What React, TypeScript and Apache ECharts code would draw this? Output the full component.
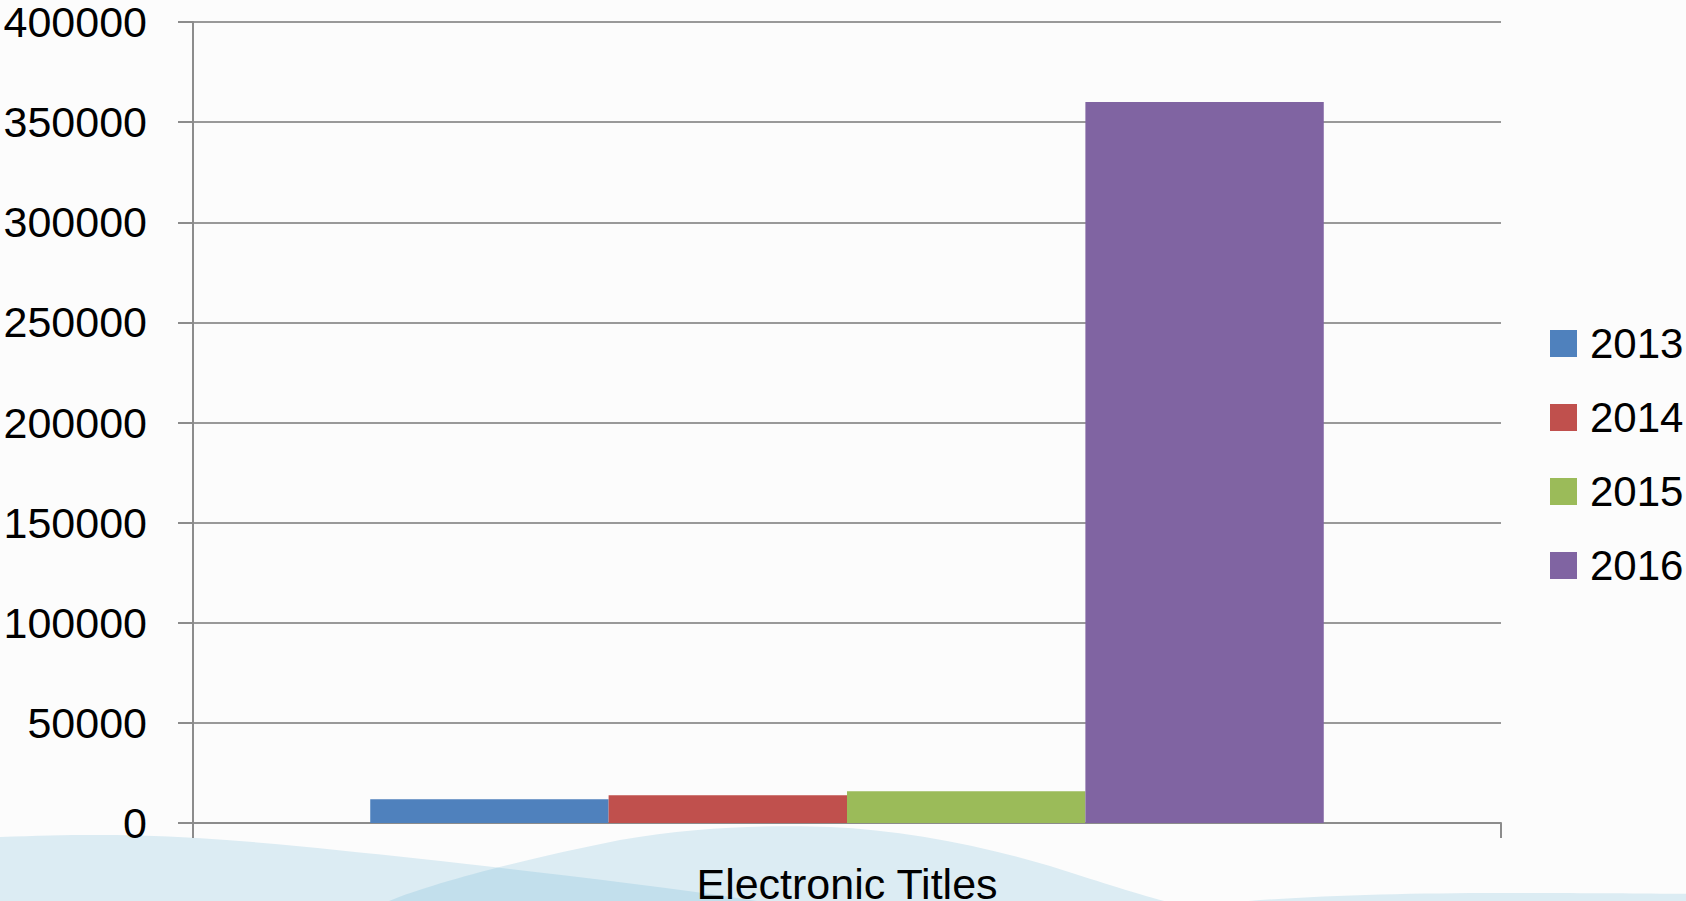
import React, { useEffect, useRef } from "react";
import * as echarts from "echarts";

const categories = ["Electronic Titles"];
const seriesNames = ["2013", "2014", "2015", "2016"];
const values2013 = [11800];
const values2014 = [13800];
const values2015 = [15800];
const values2016 = [360000];
const seriesValues = [values2013, values2014, values2015, values2016];
const seriesColors = ["#4f81bd", "#c0504d", "#9bbb59", "#8064a2"];
const yMin = 0;
const yMax = 400000;
const yInterval = 50000;

const FONT = "Liberation Sans";

const wavePaths: Record<string, string> = {
  wave1:
    "M -10 837.5 C 50 835 90 834.5 140 835.5 C 230 838 330 849 422 859 C 520 870 650 884 770 903 L 770 915 L -10 915 Z",
  wave2:
    "M 380 905 C 420 886 520 860 620 840 C 700 826 780 825 830 827 C 900 830 980 845 1050 866 C 1100 882 1150 898 1180 905 L 1180 915 L 380 915 Z",
  wave3:
    "M 1225 903 C 1300 896 1400 893 1500 893 C 1580 893 1650 893.5 1700 894 L 1700 915 L 1225 915 Z",
};

let registered = false;
function registerWaves() {
  if (registered) return;
  registered = true;
  Object.keys(wavePaths).forEach((name) => {
    echarts.graphic.registerShape(name, echarts.graphic.extendPath(wavePaths[name], {}) as any);
  });
}

export default function App() {
  const ref = useRef<HTMLDivElement>(null);

  useEffect(() => {
    if (!ref.current) return;
    registerWaves();
    const chart = echarts.init(ref.current, null, { renderer: "svg" });
    const waveFill = "rgba(84,168,205,0.19)";
    chart.setOption({
      animation: false,
      backgroundColor: "#fcfcfc",
      textStyle: { fontFamily: FONT },
      graphic: {
        elements: Object.keys(wavePaths).map((name) => ({
          type: name,
          x: 0,
          y: 0,
          z: -10,
          silent: true,
          style: { fill: waveFill },
        })),
      },
      grid: {
        left: 193,
        right: 185,
        top: 22,
        bottom: 78,
        containLabel: false,
        outerBoundsMode: "none",
      },
      legend: {
        orient: "vertical",
        left: 1550,
        top: 322.5,
        padding: 0,
        itemWidth: 27,
        itemHeight: 27,
        itemGap: 32,
        icon: "rect",
        selectedMode: false,
        data: seriesNames,
        textStyle: {
          fontSize: 42,
          color: "#000",
          fontFamily: FONT,
          padding: [0, 0, 0, 8],
        },
      },
      xAxis: {
        type: "category",
        data: categories,
        axisLine: { show: true, lineStyle: { color: "#8c8c8c", width: 2 } },
        axisTick: { show: true, length: 15, inside: false, lineStyle: { color: "#8c8c8c", width: 2 } },
        axisLabel: { fontSize: 43, color: "#000", fontFamily: FONT, margin: 39 },
        splitLine: { show: false },
      },
      yAxis: {
        type: "value",
        min: yMin,
        max: yMax,
        interval: yInterval,
        axisLine: { show: true, lineStyle: { color: "#8c8c8c", width: 2 } },
        axisTick: { show: true, length: 15, inside: false, lineStyle: { color: "#8c8c8c", width: 2 } },
        axisLabel: {
          fontSize: 43,
          color: "#000",
          fontFamily: FONT,
          margin: 46,
          formatter: (v: number) => String(v),
        },
        splitLine: { show: true, lineStyle: { color: "#999999", width: 2 } },
      },
      series: seriesNames.map((name, i) => ({
        name,
        type: "bar",
        data: seriesValues[i],
        barGap: "0%",
        barCategoryGap: "27.1%",
        itemStyle: { color: seriesColors[i] },
      })),
    });
    return () => chart.dispose();
  }, []);

  return (
    <div
      ref={ref}
      style={{ position: "fixed", left: 0, top: 0, width: 1686, height: 901 }}
    />
  );
}
